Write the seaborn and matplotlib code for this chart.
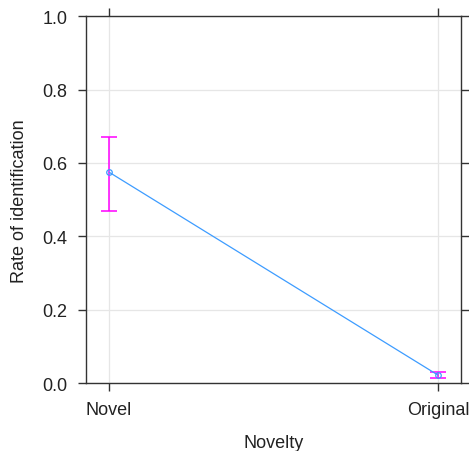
import pandas as pd
import seaborn as sns
import matplotlib.pyplot as plt

# Effect estimates
novelty = ['Novel', 'Original']
rate = [0.575, 0.022]
lower = [0.469, 0.014]
upper = [0.670, 0.030]
yticks = [0.0, 0.2, 0.4, 0.6, 0.8, 1.0]

pos = list(range(len(novelty)))
df = pd.DataFrame({'pos': pos, 'rate': rate})

# ticks on all four sides, light grid, dark frame
sns.set_style('ticks', {
    'axes.edgecolor': '#333333', 'axes.grid': True, 'grid.color': '#e6e6e6',
    'axes.labelcolor': '#222222', 'text.color': '#222222',
    'xtick.color': '#333333', 'ytick.color': '#333333',
    'xtick.direction': 'out', 'ytick.direction': 'out',
    'xtick.top': True, 'xtick.bottom': True, 'ytick.left': True, 'ytick.right': True,
})
plt.rcParams.update({
    'axes.linewidth': 1.0, 'grid.linewidth': 0.9,
    'xtick.major.size': 5.5, 'ytick.major.size': 5.5,
    'xtick.major.width': 1.0, 'ytick.major.width': 1.0,
    'xtick.minor.visible': False, 'ytick.minor.visible': False,
    'xtick.labelsize': 13, 'ytick.labelsize': 13, 'axes.labelsize': 13,
    'xtick.major.pad': 7, 'ytick.major.pad': 8,
    'xtick.labelcolor': '#222222', 'ytick.labelcolor': '#222222',
})
plt.rcParams['font.family'] = ['Liberation Sans', 'DejaVu Sans']

fig = plt.figure(figsize=(4.69, 4.52), dpi=100)
ax = fig.add_axes([0.1834, 0.150, 0.7996, 0.812])

sns.lineplot(data=df, x='pos', y='rate', color='#3d9cff', lw=0.9, marker='o',
             markersize=4, markerfacecolor='none', markeredgecolor='#3d9cff',
             markeredgewidth=0.9, ax=ax, zorder=3)

# confidence bars
yerr = [[r - lo for r, lo in zip(rate, lower)], [hi - r for r, hi in zip(rate, upper)]]
ax.errorbar(pos, rate, yerr=yerr, fmt='none', ecolor='#ff00ff',
            elinewidth=1.1, capsize=5.5, capthick=1.1, zorder=2)

ax.set_xticks(pos, labels=novelty)
ax.set_yticks(yticks, labels=[f'{v:.1f}' for v in yticks])
ax.set_xlim(-0.07, 1.07)
ax.set_ylim(0, 1.0)

ax.set_xlabel('Novelty', labelpad=12)
ax.set_ylabel('Rate of identification', labelpad=10)

fig.savefig('out.png', dpi=100)
